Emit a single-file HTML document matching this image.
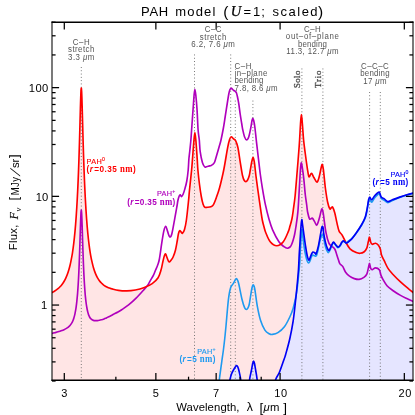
<!DOCTYPE html>
<html><head><meta charset="utf-8"><title>PAH model</title>
<style>html,body{margin:0;padding:0;background:#fff}body{width:415px;height:415px;overflow:hidden}svg{will-change:transform}</style>
</head><body>
<svg width="415" height="415" viewBox="0 0 415 415" style="display:block;font-family:'Liberation Sans',sans-serif">
<defs><clipPath id="c"><rect x="52" y="22.3" width="361" height="357.7"/></clipPath></defs>
<rect width="415" height="415" fill="#fff"/>
<g clip-path="url(#c)">
<path d="M48.00,294.23C48.33,294.10 49.33,293.72 50.00,293.43C50.67,293.14 51.33,292.84 52.00,292.51C52.67,292.18 53.33,291.83 54.00,291.44C54.67,291.04 55.33,290.63 56.00,290.16C56.67,289.70 57.33,289.20 58.00,288.64C58.67,288.07 59.33,287.47 60.00,286.77C60.67,286.07 61.33,285.32 62.00,284.44C62.67,283.56 63.33,282.62 64.00,281.48C64.67,280.35 65.33,279.13 66.00,277.63C66.67,276.14 67.33,274.53 68.00,272.50C68.67,270.48 69.33,268.30 70.00,265.48C70.67,262.66 71.57,257.86 72.00,255.58C72.43,253.31 72.40,253.16 72.60,251.83C72.80,250.50 73.00,249.10 73.20,247.61C73.40,246.11 73.60,244.54 73.80,242.85C74.00,241.16 74.20,239.38 74.40,237.46C74.60,235.54 74.80,233.53 75.00,231.34C75.20,229.15 75.40,226.85 75.60,224.35C75.80,221.84 76.00,219.20 76.20,216.32C76.40,213.43 76.60,210.38 76.80,207.04C77.00,203.69 77.26,198.88 77.40,196.25C77.54,193.61 77.57,192.96 77.65,191.22C77.73,189.49 77.82,187.71 77.90,185.85C77.98,184.00 78.07,182.08 78.15,180.09C78.23,178.11 78.32,176.06 78.40,173.92C78.48,171.79 78.57,169.59 78.65,167.30C78.73,165.01 78.82,162.65 78.90,160.19C78.98,157.74 79.07,155.20 79.15,152.57C79.23,149.94 79.32,147.22 79.40,144.42C79.48,141.62 79.57,138.72 79.65,135.76C79.73,132.81 79.82,129.75 79.90,126.67C79.98,123.60 80.07,120.43 80.15,117.34C80.23,114.24 80.32,111.06 80.40,108.11C80.48,105.17 80.57,102.18 80.65,99.64C80.73,97.10 80.82,94.66 80.90,92.86C80.98,91.06 81.08,89.64 81.15,88.86C81.22,88.08 81.26,88.24 81.30,88.17C81.34,88.11 81.34,87.88 81.40,88.48C81.46,89.09 81.57,90.20 81.65,91.80C81.73,93.41 81.82,95.69 81.90,98.11C81.98,100.54 82.07,103.44 82.15,106.33C82.23,109.22 82.32,112.38 82.40,115.46C82.48,118.54 82.57,121.73 82.65,124.81C82.73,127.90 82.82,130.98 82.90,133.97C82.98,136.95 83.07,139.89 83.15,142.72C83.23,145.55 83.32,148.31 83.40,150.97C83.48,153.63 83.57,156.20 83.65,158.69C83.73,161.18 83.82,163.57 83.90,165.89C83.98,168.21 84.07,170.44 84.15,172.60C84.23,174.76 84.32,176.84 84.40,178.85C84.48,180.87 84.57,182.80 84.65,184.68C84.73,186.56 84.82,188.37 84.90,190.12C84.98,191.87 85.07,193.56 85.15,195.20C85.23,196.84 85.26,197.45 85.40,199.95C85.54,202.44 85.80,207.00 86.00,210.17C86.20,213.34 86.40,216.23 86.60,218.96C86.80,221.70 87.00,224.20 87.20,226.58C87.40,228.95 87.60,231.13 87.80,233.21C88.00,235.28 88.20,237.19 88.40,239.01C88.60,240.82 88.80,242.50 89.00,244.10C89.20,245.70 89.40,247.19 89.60,248.60C89.80,250.01 90.00,251.33 90.20,252.58C90.40,253.83 90.60,255.00 90.80,256.11C91.00,257.22 90.97,257.35 91.40,259.26C91.83,261.16 92.73,265.19 93.40,267.54C94.07,269.90 94.73,271.70 95.40,273.38C96.07,275.05 96.73,276.37 97.40,277.59C98.07,278.81 98.73,279.79 99.40,280.70C100.07,281.60 100.73,282.34 101.40,283.03C102.07,283.71 102.73,284.28 103.40,284.80C104.07,285.33 104.73,285.77 105.40,286.17C106.07,286.58 106.73,286.92 107.40,287.24C108.07,287.56 108.73,287.83 109.40,288.08C110.07,288.33 110.97,288.61 111.40,288.75C111.83,288.88 110.83,288.64 112.00,288.92C113.17,289.19 115.92,290.07 118.40,290.40C120.88,290.73 124.08,290.97 126.90,290.90C129.72,290.83 132.50,290.52 135.30,290.00C138.10,289.48 140.88,288.87 143.70,287.80C146.52,286.73 149.80,285.28 152.20,283.60C154.60,281.92 156.63,279.95 158.10,277.70C159.57,275.45 160.22,272.72 161.00,270.10C161.78,267.48 162.25,264.35 162.80,262.00C163.35,259.65 163.83,257.33 164.30,256.00C164.77,254.67 165.15,253.75 165.60,254.00C166.05,254.25 166.55,256.37 167.00,257.50C167.45,258.63 167.88,260.07 168.30,260.80C168.72,261.53 169.05,261.98 169.50,261.90C169.95,261.82 170.40,261.12 171.00,260.30C171.60,259.48 172.35,258.72 173.10,257.00C173.85,255.28 174.80,252.75 175.50,250.00C176.20,247.25 176.80,243.25 177.30,240.50C177.80,237.75 178.10,235.13 178.50,233.50C178.90,231.87 179.28,230.98 179.70,230.70C180.12,230.42 180.53,231.37 181.00,231.80C181.47,232.23 181.92,233.67 182.50,233.30C183.08,232.93 183.85,231.82 184.50,229.60C185.15,227.38 185.72,224.92 186.40,220.00C187.08,215.08 188.08,205.10 188.60,200.10C189.12,195.10 189.00,195.02 189.50,190.00C190.00,184.98 191.10,175.18 191.60,170.00C192.10,164.82 192.13,163.57 192.50,158.90C192.87,154.23 193.40,146.40 193.80,142.00C194.20,137.60 194.53,132.50 194.90,132.50C195.27,132.50 195.62,137.60 196.00,142.00C196.38,146.40 196.88,154.23 197.20,158.90C197.52,163.57 197.52,165.73 197.90,170.00C198.28,174.27 198.93,180.08 199.50,184.50C200.07,188.92 200.70,193.20 201.30,196.50C201.90,199.80 202.50,202.50 203.10,204.30C203.70,206.10 204.17,206.80 204.90,207.30C205.63,207.80 206.50,207.40 207.50,207.30C208.50,207.20 209.93,207.10 210.90,206.70C211.87,206.30 212.40,206.40 213.30,204.90C214.20,203.40 215.27,200.52 216.30,197.70C217.33,194.88 218.37,192.12 219.50,188.00C220.63,183.88 222.18,177.17 223.10,173.00C224.02,168.83 224.23,167.28 225.00,163.00C225.77,158.72 226.93,151.22 227.70,147.30C228.47,143.38 229.02,141.25 229.60,139.50C230.18,137.75 230.55,136.92 231.20,136.80C231.85,136.68 232.75,138.13 233.50,138.80C234.25,139.47 234.97,139.35 235.70,140.80C236.43,142.25 237.17,144.08 237.90,147.50C238.63,150.92 239.50,157.55 240.10,161.30C240.70,165.05 241.10,167.63 241.50,170.00C241.90,172.37 242.08,173.83 242.50,175.50C242.92,177.17 243.45,178.98 244.00,180.00C244.55,181.02 245.20,181.60 245.80,181.60C246.40,181.60 247.02,181.02 247.60,180.00C248.18,178.98 248.85,177.17 249.30,175.50C249.75,173.83 249.88,172.33 250.30,170.00C250.72,167.67 251.33,163.63 251.80,161.50C252.27,159.37 252.68,157.12 253.10,157.20C253.52,157.28 253.93,159.87 254.30,162.00C254.67,164.13 255.03,167.75 255.30,170.00C255.57,172.25 255.43,171.88 255.90,175.50C256.37,179.12 257.25,185.63 258.10,191.70C258.95,197.77 260.30,207.18 261.00,211.90C261.70,216.62 261.82,217.57 262.30,220.00C262.78,222.43 263.30,224.33 263.90,226.50C264.50,228.67 264.85,230.47 265.90,233.00C266.95,235.53 268.40,239.58 270.20,241.70C272.00,243.82 274.52,245.70 276.70,245.70C278.88,245.70 281.37,244.05 283.30,241.70C285.23,239.35 287.18,234.22 288.30,231.60C289.42,228.98 289.40,228.10 290.00,226.00C290.60,223.90 291.35,221.67 291.90,219.00C292.45,216.33 292.77,213.83 293.30,210.00C293.83,206.17 294.52,201.67 295.10,196.00C295.68,190.33 296.12,184.33 296.80,176.00C297.48,167.67 298.58,154.67 299.20,146.00C299.82,137.33 300.13,129.25 300.50,124.00C300.87,118.75 301.08,114.50 301.40,114.50C301.72,114.50 302.03,119.75 302.40,124.00C302.77,128.25 303.13,135.17 303.60,140.00C304.07,144.83 304.57,148.20 305.20,153.00C305.83,157.80 306.78,164.85 307.40,168.80C308.02,172.75 308.42,175.67 308.90,176.70C309.38,177.73 309.83,175.55 310.30,175.00C310.77,174.45 311.10,172.98 311.70,173.40C312.30,173.82 313.05,176.05 313.90,177.50C314.75,178.95 316.05,181.77 316.80,182.10C317.55,182.43 317.92,180.75 318.40,179.50C318.88,178.25 319.23,176.60 319.70,174.60C320.17,172.60 320.77,169.18 321.20,167.50C321.63,165.82 321.95,164.25 322.30,164.50C322.65,164.75 322.98,166.92 323.30,169.00C323.62,171.08 323.83,173.67 324.20,177.00C324.57,180.33 324.93,184.83 325.50,189.00C326.07,193.17 326.88,198.70 327.60,202.00C328.32,205.30 329.18,207.83 329.80,208.80C330.42,209.77 330.82,208.07 331.30,207.80C331.78,207.53 332.12,206.33 332.70,207.20C333.28,208.07 334.08,210.35 334.80,213.00C335.52,215.65 336.28,220.08 337.00,223.10C337.72,226.12 338.27,229.13 339.10,231.10C339.93,233.07 340.92,233.10 342.00,234.90C343.08,236.70 344.27,239.58 345.60,241.90C346.93,244.22 348.23,247.02 350.00,248.80C351.77,250.58 354.52,251.85 356.20,252.60C357.88,253.35 358.82,253.40 360.10,253.30C361.38,253.20 362.78,252.87 363.90,252.00C365.02,251.13 366.07,249.80 366.80,248.10C367.53,246.40 367.85,243.62 368.30,241.80C368.75,239.98 369.10,237.12 369.50,237.20C369.90,237.28 370.25,241.12 370.70,242.30C371.15,243.48 371.40,244.13 372.20,244.30C373.00,244.47 374.47,243.15 375.50,243.30C376.53,243.45 377.60,244.23 378.40,245.20C379.20,246.17 379.78,247.48 380.30,249.10C380.82,250.72 380.85,252.97 381.50,254.90C382.15,256.83 383.12,258.45 384.20,260.70C385.28,262.95 386.57,266.15 388.00,268.40C389.43,270.65 390.72,271.95 392.80,274.20C394.88,276.45 397.92,279.50 400.50,281.90C403.08,284.30 405.72,286.45 408.30,288.60C410.88,290.75 414.72,293.77 416.00,294.80L416.00,420.00 L48.00,420.00 Z" fill="#ffe5e5"/>
<path d="M226.00,400.00C226.65,396.67 229.07,384.08 229.90,380.00C230.73,375.92 230.62,376.77 231.00,375.50C231.38,374.23 231.62,373.62 232.20,372.40C232.78,371.18 233.77,369.35 234.50,368.20C235.23,367.05 236.05,365.70 236.60,365.50C237.15,365.30 237.42,366.17 237.80,367.00C238.18,367.83 238.40,368.33 238.90,370.50C239.40,372.67 240.12,375.08 240.80,380.00C241.48,384.92 241.97,396.67 243.00,400.00C244.03,403.33 245.92,403.33 247.00,400.00C248.08,396.67 248.77,384.92 249.50,380.00C250.23,375.08 250.87,373.25 251.40,370.50C251.93,367.75 252.33,365.08 252.70,363.50C253.07,361.92 253.30,361.00 253.60,361.00C253.90,361.00 254.15,361.92 254.50,363.50C254.85,365.08 255.25,367.75 255.70,370.50C256.15,373.25 256.57,375.08 257.20,380.00C257.83,384.92 257.20,396.67 259.50,400.00C261.80,403.33 268.33,403.33 271.00,400.00C273.67,396.67 274.10,384.60 275.50,380.00C276.90,375.40 277.95,375.92 279.40,372.40C280.85,368.88 283.18,361.80 284.20,358.90C285.22,356.00 284.57,358.37 285.50,355.00C286.43,351.63 288.53,344.30 289.80,338.70C291.07,333.10 292.20,327.18 293.10,321.40C294.00,315.62 294.55,309.78 295.20,304.00C295.85,298.22 296.45,292.48 297.00,286.70C297.55,280.92 298.13,274.58 298.50,269.30C298.87,264.02 298.97,259.22 299.20,255.00C299.43,250.78 299.67,247.83 299.90,244.00C300.13,240.17 300.38,235.33 300.60,232.00C300.82,228.67 301.00,226.07 301.20,224.00C301.40,221.93 301.60,219.68 301.80,219.60C302.00,219.52 302.12,221.52 302.40,223.50C302.68,225.48 302.97,227.67 303.50,231.50C304.03,235.33 304.95,242.33 305.60,246.50C306.25,250.67 306.85,254.22 307.40,256.50C307.95,258.78 308.43,260.03 308.90,260.20C309.37,260.37 309.78,258.48 310.20,257.50C310.62,256.52 310.95,255.22 311.40,254.30C311.85,253.38 312.28,252.22 312.90,252.00C313.52,251.78 314.57,252.70 315.10,253.00C315.63,253.30 315.57,254.88 316.10,253.80C316.63,252.72 317.57,249.72 318.30,246.50C319.03,243.28 319.93,237.58 320.50,234.50C321.07,231.42 321.37,229.35 321.70,228.00C322.03,226.65 322.25,226.32 322.50,226.40C322.75,226.48 323.00,227.33 323.20,228.50C323.40,229.67 323.33,231.13 323.70,233.40C324.07,235.67 324.77,239.57 325.40,242.10C326.03,244.63 326.87,247.23 327.50,248.60C328.13,249.97 328.57,250.75 329.20,250.30C329.83,249.85 330.58,247.27 331.30,245.90C332.02,244.53 332.77,242.28 333.50,242.10C334.23,241.92 334.97,243.97 335.70,244.80C336.43,245.63 337.20,246.97 337.90,247.10C338.60,247.23 339.25,246.40 339.90,245.60C340.55,244.80 341.23,243.08 341.80,242.30C342.37,241.52 342.78,240.97 343.30,240.90C343.82,240.83 344.38,241.53 344.90,241.90C345.42,242.27 345.77,243.13 346.40,243.10C347.03,243.07 347.77,242.45 348.70,241.70C349.63,240.95 350.75,240.05 352.00,238.60C353.25,237.15 354.58,235.35 356.20,233.00C357.82,230.65 360.18,227.17 361.70,224.50C363.22,221.83 364.40,219.60 365.30,217.00C366.20,214.40 366.55,211.77 367.10,208.90C367.65,206.03 368.15,201.78 368.60,199.80C369.05,197.82 369.30,197.00 369.80,197.00C370.30,197.00 370.85,199.93 371.60,199.80C372.35,199.67 373.40,197.25 374.30,196.20C375.20,195.15 376.15,194.17 377.00,193.50C377.85,192.83 378.70,191.60 379.40,192.20C380.10,192.80 380.38,195.98 381.20,197.10C382.02,198.22 383.18,198.15 384.30,198.90C385.42,199.65 386.55,201.45 387.90,201.60C389.25,201.75 390.45,200.55 392.40,199.80C394.35,199.05 397.18,197.93 399.60,197.10C402.02,196.27 404.17,195.60 406.90,194.80C409.63,194.00 414.48,192.72 416.00,192.30L416.00,420.00 L226.00,420.00 Z" fill="#e5e5ff"/>
<line x1="81.30" y1="67.0" x2="81.30" y2="380" stroke="#6a6a6a" stroke-width="1" stroke-dasharray="0.9 2.4"/>
<line x1="194.50" y1="54.5" x2="194.50" y2="380" stroke="#6a6a6a" stroke-width="1" stroke-dasharray="0.9 2.4"/>
<line x1="230.70" y1="54.5" x2="230.70" y2="380" stroke="#6a6a6a" stroke-width="1" stroke-dasharray="0.9 2.4"/>
<line x1="235.30" y1="100.6" x2="235.30" y2="380" stroke="#6a6a6a" stroke-width="1" stroke-dasharray="0.9 2.4"/>
<line x1="252.90" y1="100.6" x2="252.90" y2="380" stroke="#6a6a6a" stroke-width="1" stroke-dasharray="0.9 2.4"/>
<line x1="301.90" y1="68.5" x2="301.90" y2="380" stroke="#6a6a6a" stroke-width="1" stroke-dasharray="0.9 2.4"/>
<line x1="322.90" y1="68.5" x2="322.90" y2="380" stroke="#6a6a6a" stroke-width="1" stroke-dasharray="0.9 2.4"/>
<line x1="369.60" y1="92.0" x2="369.60" y2="380" stroke="#6a6a6a" stroke-width="1" stroke-dasharray="0.9 2.4"/>
<line x1="380.30" y1="92.0" x2="380.30" y2="380" stroke="#6a6a6a" stroke-width="1" stroke-dasharray="0.9 2.4"/>
<path d="M48.00,333.61C48.33,333.60 49.33,333.54 50.00,333.50C50.67,333.46 51.33,333.47 52.00,333.37C52.67,333.27 53.33,333.06 54.00,332.90C54.67,332.73 55.33,332.57 56.00,332.39C56.67,332.21 57.33,332.03 58.00,331.83C58.67,331.64 59.33,331.43 60.00,331.21C60.67,330.99 61.33,330.76 62.00,330.49C62.67,330.23 63.33,329.94 64.00,329.63C64.67,329.33 65.33,329.02 66.00,328.65C66.67,328.27 67.33,327.90 68.00,327.38C68.67,326.86 69.33,326.32 70.00,325.53C70.67,324.73 71.57,323.30 72.00,322.61C72.43,321.92 72.40,321.84 72.60,321.40C72.80,320.96 73.00,320.49 73.20,319.97C73.40,319.45 73.60,318.89 73.80,318.26C74.00,317.62 74.20,316.94 74.40,316.16C74.60,315.38 74.80,314.55 75.00,313.60C75.20,312.65 75.40,311.63 75.60,310.45C75.80,309.28 76.00,308.02 76.20,306.55C76.40,305.08 76.60,303.50 76.80,301.64C77.00,299.78 77.26,296.95 77.40,295.39C77.54,293.84 77.57,293.39 77.65,292.30C77.73,291.21 77.82,290.07 77.90,288.85C77.98,287.64 78.07,286.37 78.15,285.02C78.23,283.67 78.32,282.26 78.40,280.76C78.48,279.25 78.57,277.68 78.65,276.01C78.73,274.33 78.82,272.58 78.90,270.72C78.98,268.87 79.07,266.92 79.15,264.87C79.23,262.81 79.32,260.66 79.40,258.40C79.48,256.15 79.57,253.79 79.65,251.34C79.73,248.90 79.82,246.34 79.90,243.74C79.98,241.15 80.07,238.44 80.15,235.78C80.23,233.12 80.32,230.36 80.40,227.79C80.48,225.22 80.57,222.61 80.65,220.38C80.73,218.15 80.82,215.99 80.90,214.41C80.98,212.82 81.08,211.57 81.15,210.88C81.22,210.19 81.26,210.32 81.30,210.27C81.34,210.21 81.34,210.00 81.40,210.53C81.46,211.07 81.57,212.04 81.65,213.46C81.73,214.87 81.82,216.88 81.90,219.00C81.98,221.12 82.07,223.67 82.15,226.18C82.23,228.70 82.32,231.44 82.40,234.09C82.48,236.73 82.57,239.45 82.65,242.05C82.73,244.66 82.82,247.24 82.90,249.70C82.98,252.16 83.07,254.55 83.15,256.82C83.23,259.10 83.32,261.27 83.40,263.34C83.48,265.41 83.57,267.37 83.65,269.24C83.73,271.11 83.82,272.88 83.90,274.55C83.98,276.23 84.07,277.81 84.15,279.32C84.23,280.82 84.32,282.23 84.40,283.57C84.48,284.92 84.57,286.18 84.65,287.38C84.73,288.58 84.82,289.71 84.90,290.79C84.98,291.86 85.07,292.87 85.15,293.83C85.23,294.79 85.26,295.19 85.40,296.55C85.54,297.91 85.80,300.39 86.00,302.00C86.20,303.60 86.40,304.96 86.60,306.21C86.80,307.46 87.00,308.52 87.20,309.50C87.40,310.48 87.60,311.31 87.80,312.09C88.00,312.86 88.20,313.52 88.40,314.14C88.60,314.75 88.80,315.30 89.00,315.78C89.20,316.25 89.40,316.63 89.60,316.99C89.80,317.35 90.00,317.66 90.20,317.94C90.40,318.22 90.60,318.46 90.80,318.68C91.00,318.91 90.97,318.99 91.40,319.27C91.83,319.55 92.73,320.13 93.40,320.37C94.07,320.60 94.73,320.64 95.40,320.68C96.07,320.71 96.73,320.63 97.40,320.56C98.07,320.49 98.73,320.38 99.40,320.26C100.07,320.13 100.73,319.96 101.40,319.79C102.07,319.62 102.73,319.47 103.40,319.23C104.07,318.98 104.73,318.64 105.40,318.33C106.07,318.03 106.73,317.70 107.40,317.38C108.07,317.06 108.73,316.74 109.40,316.41C110.07,316.09 110.73,315.79 111.40,315.44C112.07,315.09 112.97,314.57 113.40,314.32C113.83,314.08 113.23,314.35 114.00,313.96C114.77,313.58 116.72,312.71 118.00,312.00C119.28,311.29 119.88,310.92 121.70,309.70C123.52,308.48 126.50,306.62 128.90,304.70C131.30,302.78 133.68,300.62 136.10,298.20C138.52,295.78 141.47,292.37 143.40,290.20C145.33,288.03 146.50,286.88 147.70,285.20C148.90,283.52 149.63,281.78 150.60,280.10C151.57,278.42 152.67,276.78 153.50,275.10C154.33,273.42 154.90,271.68 155.60,270.00C156.30,268.32 157.07,266.83 157.70,265.00C158.33,263.17 158.73,262.60 159.40,259.00C160.07,255.40 160.97,248.05 161.70,243.40C162.43,238.75 163.13,233.97 163.80,231.10C164.47,228.23 165.08,226.20 165.70,226.20C166.32,226.20 166.85,229.33 167.50,231.10C168.15,232.87 168.88,236.32 169.60,236.80C170.32,237.28 170.95,237.00 171.80,234.00C172.65,231.00 173.87,223.27 174.70,218.80C175.53,214.33 176.27,210.25 176.80,207.20C177.33,204.15 177.50,202.37 177.90,200.50C178.30,198.63 178.82,196.93 179.20,196.00C179.58,195.07 179.82,194.80 180.20,194.90C180.58,195.00 181.03,196.67 181.50,196.60C181.97,196.53 182.45,195.75 183.00,194.50C183.55,193.25 184.17,191.35 184.80,189.10C185.43,186.85 186.23,184.18 186.80,181.00C187.37,177.82 187.85,173.68 188.20,170.00C188.55,166.32 188.62,162.23 188.90,158.90C189.18,155.57 189.57,153.15 189.90,150.00C190.23,146.85 190.62,143.33 190.90,140.00C191.18,136.67 191.23,135.18 191.60,130.00C191.97,124.82 192.68,114.73 193.10,108.90C193.52,103.07 193.80,98.28 194.10,95.00C194.40,91.72 194.62,89.20 194.90,89.20C195.18,89.20 195.45,91.72 195.80,95.00C196.15,98.28 196.62,103.07 197.00,108.90C197.38,114.73 197.72,124.82 198.10,130.00C198.48,135.18 198.95,136.38 199.30,140.00C199.65,143.62 199.68,147.95 200.20,151.70C200.72,155.45 201.67,159.98 202.40,162.50C203.13,165.02 203.92,166.10 204.60,166.80C205.28,167.50 205.80,166.82 206.50,166.70C207.20,166.58 208.02,166.32 208.80,166.10C209.58,165.88 210.52,165.68 211.20,165.40C211.88,165.12 212.43,164.78 212.90,164.40C213.37,164.02 213.65,163.67 214.00,163.10C214.35,162.53 214.17,163.63 215.00,161.00C215.83,158.37 218.00,150.80 219.00,147.30C220.00,143.80 220.27,143.22 221.00,140.00C221.73,136.78 222.68,132.00 223.40,128.00C224.12,124.00 224.42,121.58 225.30,116.00C226.18,110.42 227.92,98.92 228.70,94.50C229.48,90.08 229.58,90.55 230.00,89.50C230.42,88.45 230.78,88.23 231.20,88.20C231.62,88.17 232.07,88.92 232.50,89.30C232.93,89.68 233.35,90.17 233.80,90.50C234.25,90.83 234.77,90.92 235.20,91.30C235.63,91.68 236.02,91.85 236.40,92.80C236.78,93.75 237.10,95.15 237.50,97.00C237.90,98.85 238.37,101.15 238.80,103.90C239.23,106.65 239.62,110.23 240.10,113.50C240.58,116.77 241.25,120.75 241.70,123.50C242.15,126.25 242.33,127.80 242.80,130.00C243.27,132.20 243.87,135.05 244.50,136.70C245.13,138.35 245.88,139.90 246.60,139.90C247.32,139.90 248.07,138.92 248.80,136.70C249.53,134.48 250.47,129.30 251.00,126.60C251.53,123.90 251.70,121.90 252.00,120.50C252.30,119.10 252.52,118.20 252.80,118.20C253.08,118.20 253.35,118.95 253.70,120.50C254.05,122.05 254.40,123.60 254.90,127.50C255.40,131.40 256.03,138.03 256.70,143.90C257.37,149.77 258.28,157.52 258.90,162.70C259.52,167.88 259.80,170.65 260.40,175.00C261.00,179.35 261.67,183.85 262.50,188.80C263.33,193.75 264.32,199.63 265.40,204.70C266.48,209.77 267.80,215.02 269.00,219.20C270.20,223.38 270.95,226.05 272.60,229.80C274.25,233.55 277.00,238.88 278.90,241.70C280.80,244.52 282.60,245.62 284.00,246.70C285.40,247.78 286.30,248.15 287.30,248.20C288.30,248.25 289.28,247.62 290.00,247.00C290.72,246.38 291.07,245.67 291.60,244.50C292.13,243.33 292.70,241.67 293.20,240.00C293.70,238.33 294.17,236.58 294.60,234.50C295.03,232.42 295.25,231.32 295.80,227.50C296.35,223.68 297.32,218.02 297.90,211.60C298.48,205.18 298.88,195.93 299.30,189.00C299.72,182.07 300.08,174.37 300.40,170.00C300.72,165.63 300.90,163.30 301.20,162.80C301.50,162.30 301.77,164.32 302.20,167.00C302.63,169.68 303.30,174.40 303.80,178.90C304.30,183.40 304.72,189.65 305.20,194.00C305.68,198.35 306.30,202.00 306.70,205.00C307.10,208.00 307.13,209.70 307.60,212.00C308.07,214.30 308.93,217.68 309.50,218.80C310.07,219.92 310.52,218.82 311.00,218.70C311.48,218.58 311.80,217.60 312.40,218.10C313.00,218.60 313.88,220.50 314.60,221.70C315.32,222.90 316.10,225.25 316.70,225.30C317.30,225.35 317.72,223.33 318.20,222.00C318.68,220.67 319.12,219.13 319.60,217.30C320.08,215.47 320.68,212.40 321.10,211.00C321.52,209.60 321.77,208.65 322.10,208.90C322.43,209.15 322.78,210.85 323.10,212.50C323.42,214.15 323.50,215.35 324.00,218.80C324.50,222.25 325.27,229.10 326.10,233.20C326.93,237.30 328.03,241.22 329.00,243.40C329.97,245.58 330.90,245.28 331.90,246.30C332.90,247.32 334.15,247.97 335.00,249.50C335.85,251.03 336.42,253.75 337.00,255.50C337.58,257.25 338.03,258.65 338.50,260.00C338.97,261.35 339.10,262.53 339.80,263.60C340.50,264.67 341.73,264.97 342.70,266.40C343.67,267.83 344.47,270.58 345.60,272.20C346.73,273.82 348.05,275.03 349.50,276.10C350.95,277.17 352.70,278.05 354.30,278.60C355.90,279.15 357.50,279.60 359.10,279.40C360.70,279.20 362.62,278.27 363.90,277.40C365.18,276.53 366.07,275.70 366.80,274.20C367.53,272.70 367.85,270.20 368.30,268.40C368.75,266.60 369.10,263.40 369.50,263.40C369.90,263.40 370.25,267.35 370.70,268.40C371.15,269.45 371.40,269.80 372.20,269.70C373.00,269.60 374.32,267.80 375.50,267.80C376.68,267.80 378.40,268.48 379.30,269.70C380.20,270.92 380.25,273.40 380.90,275.10C381.55,276.80 382.18,278.13 383.20,279.90C384.22,281.67 385.40,283.93 387.00,285.70C388.60,287.47 390.55,288.88 392.80,290.50C395.05,292.12 397.92,293.95 400.50,295.40C403.08,296.85 405.72,297.97 408.30,299.20C410.88,300.43 414.72,302.20 416.00,302.80" fill="none" stroke="#b000bc" stroke-width="1.65" stroke-linejoin="round"/>
<path d="M48.00,294.23C48.33,294.10 49.33,293.72 50.00,293.43C50.67,293.14 51.33,292.84 52.00,292.51C52.67,292.18 53.33,291.83 54.00,291.44C54.67,291.04 55.33,290.63 56.00,290.16C56.67,289.70 57.33,289.20 58.00,288.64C58.67,288.07 59.33,287.47 60.00,286.77C60.67,286.07 61.33,285.32 62.00,284.44C62.67,283.56 63.33,282.62 64.00,281.48C64.67,280.35 65.33,279.13 66.00,277.63C66.67,276.14 67.33,274.53 68.00,272.50C68.67,270.48 69.33,268.30 70.00,265.48C70.67,262.66 71.57,257.86 72.00,255.58C72.43,253.31 72.40,253.16 72.60,251.83C72.80,250.50 73.00,249.10 73.20,247.61C73.40,246.11 73.60,244.54 73.80,242.85C74.00,241.16 74.20,239.38 74.40,237.46C74.60,235.54 74.80,233.53 75.00,231.34C75.20,229.15 75.40,226.85 75.60,224.35C75.80,221.84 76.00,219.20 76.20,216.32C76.40,213.43 76.60,210.38 76.80,207.04C77.00,203.69 77.26,198.88 77.40,196.25C77.54,193.61 77.57,192.96 77.65,191.22C77.73,189.49 77.82,187.71 77.90,185.85C77.98,184.00 78.07,182.08 78.15,180.09C78.23,178.11 78.32,176.06 78.40,173.92C78.48,171.79 78.57,169.59 78.65,167.30C78.73,165.01 78.82,162.65 78.90,160.19C78.98,157.74 79.07,155.20 79.15,152.57C79.23,149.94 79.32,147.22 79.40,144.42C79.48,141.62 79.57,138.72 79.65,135.76C79.73,132.81 79.82,129.75 79.90,126.67C79.98,123.60 80.07,120.43 80.15,117.34C80.23,114.24 80.32,111.06 80.40,108.11C80.48,105.17 80.57,102.18 80.65,99.64C80.73,97.10 80.82,94.66 80.90,92.86C80.98,91.06 81.08,89.64 81.15,88.86C81.22,88.08 81.26,88.24 81.30,88.17C81.34,88.11 81.34,87.88 81.40,88.48C81.46,89.09 81.57,90.20 81.65,91.80C81.73,93.41 81.82,95.69 81.90,98.11C81.98,100.54 82.07,103.44 82.15,106.33C82.23,109.22 82.32,112.38 82.40,115.46C82.48,118.54 82.57,121.73 82.65,124.81C82.73,127.90 82.82,130.98 82.90,133.97C82.98,136.95 83.07,139.89 83.15,142.72C83.23,145.55 83.32,148.31 83.40,150.97C83.48,153.63 83.57,156.20 83.65,158.69C83.73,161.18 83.82,163.57 83.90,165.89C83.98,168.21 84.07,170.44 84.15,172.60C84.23,174.76 84.32,176.84 84.40,178.85C84.48,180.87 84.57,182.80 84.65,184.68C84.73,186.56 84.82,188.37 84.90,190.12C84.98,191.87 85.07,193.56 85.15,195.20C85.23,196.84 85.26,197.45 85.40,199.95C85.54,202.44 85.80,207.00 86.00,210.17C86.20,213.34 86.40,216.23 86.60,218.96C86.80,221.70 87.00,224.20 87.20,226.58C87.40,228.95 87.60,231.13 87.80,233.21C88.00,235.28 88.20,237.19 88.40,239.01C88.60,240.82 88.80,242.50 89.00,244.10C89.20,245.70 89.40,247.19 89.60,248.60C89.80,250.01 90.00,251.33 90.20,252.58C90.40,253.83 90.60,255.00 90.80,256.11C91.00,257.22 90.97,257.35 91.40,259.26C91.83,261.16 92.73,265.19 93.40,267.54C94.07,269.90 94.73,271.70 95.40,273.38C96.07,275.05 96.73,276.37 97.40,277.59C98.07,278.81 98.73,279.79 99.40,280.70C100.07,281.60 100.73,282.34 101.40,283.03C102.07,283.71 102.73,284.28 103.40,284.80C104.07,285.33 104.73,285.77 105.40,286.17C106.07,286.58 106.73,286.92 107.40,287.24C108.07,287.56 108.73,287.83 109.40,288.08C110.07,288.33 110.97,288.61 111.40,288.75C111.83,288.88 110.83,288.64 112.00,288.92C113.17,289.19 115.92,290.07 118.40,290.40C120.88,290.73 124.08,290.97 126.90,290.90C129.72,290.83 132.50,290.52 135.30,290.00C138.10,289.48 140.88,288.87 143.70,287.80C146.52,286.73 149.80,285.28 152.20,283.60C154.60,281.92 156.63,279.95 158.10,277.70C159.57,275.45 160.22,272.72 161.00,270.10C161.78,267.48 162.25,264.35 162.80,262.00C163.35,259.65 163.83,257.33 164.30,256.00C164.77,254.67 165.15,253.75 165.60,254.00C166.05,254.25 166.55,256.37 167.00,257.50C167.45,258.63 167.88,260.07 168.30,260.80C168.72,261.53 169.05,261.98 169.50,261.90C169.95,261.82 170.40,261.12 171.00,260.30C171.60,259.48 172.35,258.72 173.10,257.00C173.85,255.28 174.80,252.75 175.50,250.00C176.20,247.25 176.80,243.25 177.30,240.50C177.80,237.75 178.10,235.13 178.50,233.50C178.90,231.87 179.28,230.98 179.70,230.70C180.12,230.42 180.53,231.37 181.00,231.80C181.47,232.23 181.92,233.67 182.50,233.30C183.08,232.93 183.85,231.82 184.50,229.60C185.15,227.38 185.72,224.92 186.40,220.00C187.08,215.08 188.08,205.10 188.60,200.10C189.12,195.10 189.00,195.02 189.50,190.00C190.00,184.98 191.10,175.18 191.60,170.00C192.10,164.82 192.13,163.57 192.50,158.90C192.87,154.23 193.40,146.40 193.80,142.00C194.20,137.60 194.53,132.50 194.90,132.50C195.27,132.50 195.62,137.60 196.00,142.00C196.38,146.40 196.88,154.23 197.20,158.90C197.52,163.57 197.52,165.73 197.90,170.00C198.28,174.27 198.93,180.08 199.50,184.50C200.07,188.92 200.70,193.20 201.30,196.50C201.90,199.80 202.50,202.50 203.10,204.30C203.70,206.10 204.17,206.80 204.90,207.30C205.63,207.80 206.50,207.40 207.50,207.30C208.50,207.20 209.93,207.10 210.90,206.70C211.87,206.30 212.40,206.40 213.30,204.90C214.20,203.40 215.27,200.52 216.30,197.70C217.33,194.88 218.37,192.12 219.50,188.00C220.63,183.88 222.18,177.17 223.10,173.00C224.02,168.83 224.23,167.28 225.00,163.00C225.77,158.72 226.93,151.22 227.70,147.30C228.47,143.38 229.02,141.25 229.60,139.50C230.18,137.75 230.55,136.92 231.20,136.80C231.85,136.68 232.75,138.13 233.50,138.80C234.25,139.47 234.97,139.35 235.70,140.80C236.43,142.25 237.17,144.08 237.90,147.50C238.63,150.92 239.50,157.55 240.10,161.30C240.70,165.05 241.10,167.63 241.50,170.00C241.90,172.37 242.08,173.83 242.50,175.50C242.92,177.17 243.45,178.98 244.00,180.00C244.55,181.02 245.20,181.60 245.80,181.60C246.40,181.60 247.02,181.02 247.60,180.00C248.18,178.98 248.85,177.17 249.30,175.50C249.75,173.83 249.88,172.33 250.30,170.00C250.72,167.67 251.33,163.63 251.80,161.50C252.27,159.37 252.68,157.12 253.10,157.20C253.52,157.28 253.93,159.87 254.30,162.00C254.67,164.13 255.03,167.75 255.30,170.00C255.57,172.25 255.43,171.88 255.90,175.50C256.37,179.12 257.25,185.63 258.10,191.70C258.95,197.77 260.30,207.18 261.00,211.90C261.70,216.62 261.82,217.57 262.30,220.00C262.78,222.43 263.30,224.33 263.90,226.50C264.50,228.67 264.85,230.47 265.90,233.00C266.95,235.53 268.40,239.58 270.20,241.70C272.00,243.82 274.52,245.70 276.70,245.70C278.88,245.70 281.37,244.05 283.30,241.70C285.23,239.35 287.18,234.22 288.30,231.60C289.42,228.98 289.40,228.10 290.00,226.00C290.60,223.90 291.35,221.67 291.90,219.00C292.45,216.33 292.77,213.83 293.30,210.00C293.83,206.17 294.52,201.67 295.10,196.00C295.68,190.33 296.12,184.33 296.80,176.00C297.48,167.67 298.58,154.67 299.20,146.00C299.82,137.33 300.13,129.25 300.50,124.00C300.87,118.75 301.08,114.50 301.40,114.50C301.72,114.50 302.03,119.75 302.40,124.00C302.77,128.25 303.13,135.17 303.60,140.00C304.07,144.83 304.57,148.20 305.20,153.00C305.83,157.80 306.78,164.85 307.40,168.80C308.02,172.75 308.42,175.67 308.90,176.70C309.38,177.73 309.83,175.55 310.30,175.00C310.77,174.45 311.10,172.98 311.70,173.40C312.30,173.82 313.05,176.05 313.90,177.50C314.75,178.95 316.05,181.77 316.80,182.10C317.55,182.43 317.92,180.75 318.40,179.50C318.88,178.25 319.23,176.60 319.70,174.60C320.17,172.60 320.77,169.18 321.20,167.50C321.63,165.82 321.95,164.25 322.30,164.50C322.65,164.75 322.98,166.92 323.30,169.00C323.62,171.08 323.83,173.67 324.20,177.00C324.57,180.33 324.93,184.83 325.50,189.00C326.07,193.17 326.88,198.70 327.60,202.00C328.32,205.30 329.18,207.83 329.80,208.80C330.42,209.77 330.82,208.07 331.30,207.80C331.78,207.53 332.12,206.33 332.70,207.20C333.28,208.07 334.08,210.35 334.80,213.00C335.52,215.65 336.28,220.08 337.00,223.10C337.72,226.12 338.27,229.13 339.10,231.10C339.93,233.07 340.92,233.10 342.00,234.90C343.08,236.70 344.27,239.58 345.60,241.90C346.93,244.22 348.23,247.02 350.00,248.80C351.77,250.58 354.52,251.85 356.20,252.60C357.88,253.35 358.82,253.40 360.10,253.30C361.38,253.20 362.78,252.87 363.90,252.00C365.02,251.13 366.07,249.80 366.80,248.10C367.53,246.40 367.85,243.62 368.30,241.80C368.75,239.98 369.10,237.12 369.50,237.20C369.90,237.28 370.25,241.12 370.70,242.30C371.15,243.48 371.40,244.13 372.20,244.30C373.00,244.47 374.47,243.15 375.50,243.30C376.53,243.45 377.60,244.23 378.40,245.20C379.20,246.17 379.78,247.48 380.30,249.10C380.82,250.72 380.85,252.97 381.50,254.90C382.15,256.83 383.12,258.45 384.20,260.70C385.28,262.95 386.57,266.15 388.00,268.40C389.43,270.65 390.72,271.95 392.80,274.20C394.88,276.45 397.92,279.50 400.50,281.90C403.08,284.30 405.72,286.45 408.30,288.60C410.88,290.75 414.72,293.77 416.00,294.80" fill="none" stroke="#ff0000" stroke-width="1.65" stroke-linejoin="round"/>
<path d="M217.00,400.00C217.38,396.67 218.53,386.20 219.30,380.00C220.07,373.80 220.92,367.80 221.60,362.80C222.28,357.80 222.87,354.13 223.40,350.00C223.93,345.87 224.37,342.00 224.80,338.00C225.23,334.00 225.40,332.38 226.00,326.00C226.60,319.62 227.63,306.07 228.40,299.70C229.17,293.33 229.77,290.52 230.60,287.80C231.43,285.08 232.67,284.65 233.40,283.40C234.13,282.15 234.52,281.10 235.00,280.30C235.48,279.50 235.87,278.60 236.30,278.60C236.73,278.60 237.17,279.32 237.60,280.30C238.03,281.28 238.15,281.27 238.90,284.50C239.65,287.73 241.13,295.80 242.10,299.70C243.07,303.60 243.98,306.27 244.70,307.90C245.42,309.53 245.85,309.52 246.40,309.50C246.95,309.48 247.52,308.72 248.00,307.80C248.48,306.88 248.73,306.80 249.30,304.00C249.87,301.20 250.88,293.95 251.40,291.00C251.92,288.05 252.10,287.35 252.40,286.30C252.70,285.25 252.92,284.70 253.20,284.70C253.48,284.70 253.78,285.25 254.10,286.30C254.42,287.35 254.57,287.68 255.10,291.00C255.63,294.32 256.40,301.32 257.30,306.20C258.20,311.08 259.23,316.32 260.50,320.30C261.77,324.28 263.45,327.87 264.90,330.10C266.35,332.33 267.93,332.98 269.20,333.70C270.47,334.42 271.05,334.57 272.50,334.40C273.95,334.23 275.92,333.97 277.90,332.70C279.88,331.43 282.42,329.42 284.40,326.80C286.38,324.18 288.35,320.07 289.80,317.00C291.25,313.93 292.12,311.65 293.10,308.40C294.08,305.15 294.98,301.12 295.70,297.50C296.42,293.88 296.87,290.95 297.40,286.70C297.93,282.45 298.50,276.12 298.90,272.00C299.30,267.88 299.55,265.67 299.80,262.00C300.05,258.33 300.20,253.67 300.40,250.00C300.60,246.33 300.82,242.92 301.00,240.00C301.18,237.08 301.34,234.30 301.50,232.50C301.66,230.70 301.82,229.48 301.95,229.20C302.08,228.92 302.16,229.67 302.30,230.80C302.44,231.93 302.58,233.97 302.80,236.00C303.02,238.03 303.30,240.67 303.60,243.00C303.90,245.33 304.23,247.83 304.60,250.00C304.97,252.17 305.37,254.17 305.80,256.00C306.23,257.83 306.75,259.83 307.20,261.00C307.65,262.17 308.07,262.92 308.50,263.00C308.93,263.08 309.35,262.42 309.80,261.50C310.25,260.58 310.73,258.58 311.20,257.50C311.67,256.42 312.05,255.28 312.60,255.00C313.15,254.72 313.87,255.70 314.50,255.80C315.13,255.90 315.82,256.57 316.40,255.60C316.98,254.63 317.42,252.43 318.00,250.00C318.58,247.57 319.32,243.33 319.90,241.00C320.48,238.67 321.05,237.08 321.50,236.00C321.95,234.92 322.23,234.17 322.60,234.50C322.97,234.83 323.30,236.28 323.70,238.00C324.10,239.72 324.48,242.73 325.00,244.80C325.52,246.87 326.22,249.10 326.80,250.40C327.38,251.70 327.90,252.78 328.50,252.60C329.10,252.42 329.82,250.57 330.40,249.30C330.98,248.03 331.48,246.05 332.00,245.00C332.52,243.95 332.88,242.95 333.50,243.00C334.12,243.05 334.97,244.53 335.70,245.30C336.43,246.07 337.20,247.47 337.90,247.60C338.60,247.73 339.25,246.90 339.90,246.10C340.55,245.30 341.23,243.60 341.80,242.80C342.37,242.00 342.78,241.42 343.30,241.30C343.82,241.18 344.38,241.87 344.90,242.10C345.42,242.33 345.77,242.90 346.40,242.70C347.03,242.50 347.77,241.65 348.70,240.90C349.63,240.15 350.75,239.48 352.00,238.20C353.25,236.92 354.58,235.40 356.20,233.20C357.82,231.00 360.18,227.57 361.70,225.00C363.22,222.43 364.40,220.30 365.30,217.80C366.20,215.30 366.55,212.67 367.10,210.00C367.65,207.33 368.15,203.63 368.60,201.80C369.05,199.97 369.30,198.92 369.80,199.00C370.30,199.08 370.85,202.43 371.60,202.30C372.35,202.17 373.40,199.37 374.30,198.20C375.20,197.03 376.15,196.03 377.00,195.30C377.85,194.57 378.67,193.25 379.40,193.80C380.13,194.35 380.58,197.50 381.40,198.60C382.22,199.70 383.22,199.73 384.30,200.40C385.38,201.07 386.55,202.58 387.90,202.60C389.25,202.62 390.45,201.35 392.40,200.50C394.35,199.65 397.18,198.42 399.60,197.50C402.02,196.58 404.17,195.83 406.90,195.00C409.63,194.17 414.48,192.92 416.00,192.50" fill="none" stroke="#1e9af0" stroke-width="1.6" stroke-linejoin="round"/>
<path d="M226.00,400.00C226.65,396.67 229.07,384.08 229.90,380.00C230.73,375.92 230.62,376.77 231.00,375.50C231.38,374.23 231.62,373.62 232.20,372.40C232.78,371.18 233.77,369.35 234.50,368.20C235.23,367.05 236.05,365.70 236.60,365.50C237.15,365.30 237.42,366.17 237.80,367.00C238.18,367.83 238.40,368.33 238.90,370.50C239.40,372.67 240.12,375.08 240.80,380.00C241.48,384.92 241.97,396.67 243.00,400.00C244.03,403.33 245.92,403.33 247.00,400.00C248.08,396.67 248.77,384.92 249.50,380.00C250.23,375.08 250.87,373.25 251.40,370.50C251.93,367.75 252.33,365.08 252.70,363.50C253.07,361.92 253.30,361.00 253.60,361.00C253.90,361.00 254.15,361.92 254.50,363.50C254.85,365.08 255.25,367.75 255.70,370.50C256.15,373.25 256.57,375.08 257.20,380.00C257.83,384.92 257.20,396.67 259.50,400.00C261.80,403.33 268.33,403.33 271.00,400.00C273.67,396.67 274.10,384.60 275.50,380.00C276.90,375.40 277.95,375.92 279.40,372.40C280.85,368.88 283.18,361.80 284.20,358.90C285.22,356.00 284.57,358.37 285.50,355.00C286.43,351.63 288.53,344.30 289.80,338.70C291.07,333.10 292.20,327.18 293.10,321.40C294.00,315.62 294.55,309.78 295.20,304.00C295.85,298.22 296.45,292.48 297.00,286.70C297.55,280.92 298.13,274.58 298.50,269.30C298.87,264.02 298.97,259.22 299.20,255.00C299.43,250.78 299.67,247.83 299.90,244.00C300.13,240.17 300.38,235.33 300.60,232.00C300.82,228.67 301.00,226.07 301.20,224.00C301.40,221.93 301.60,219.68 301.80,219.60C302.00,219.52 302.12,221.52 302.40,223.50C302.68,225.48 302.97,227.67 303.50,231.50C304.03,235.33 304.95,242.33 305.60,246.50C306.25,250.67 306.85,254.22 307.40,256.50C307.95,258.78 308.43,260.03 308.90,260.20C309.37,260.37 309.78,258.48 310.20,257.50C310.62,256.52 310.95,255.22 311.40,254.30C311.85,253.38 312.28,252.22 312.90,252.00C313.52,251.78 314.57,252.70 315.10,253.00C315.63,253.30 315.57,254.88 316.10,253.80C316.63,252.72 317.57,249.72 318.30,246.50C319.03,243.28 319.93,237.58 320.50,234.50C321.07,231.42 321.37,229.35 321.70,228.00C322.03,226.65 322.25,226.32 322.50,226.40C322.75,226.48 323.00,227.33 323.20,228.50C323.40,229.67 323.33,231.13 323.70,233.40C324.07,235.67 324.77,239.57 325.40,242.10C326.03,244.63 326.87,247.23 327.50,248.60C328.13,249.97 328.57,250.75 329.20,250.30C329.83,249.85 330.58,247.27 331.30,245.90C332.02,244.53 332.77,242.28 333.50,242.10C334.23,241.92 334.97,243.97 335.70,244.80C336.43,245.63 337.20,246.97 337.90,247.10C338.60,247.23 339.25,246.40 339.90,245.60C340.55,244.80 341.23,243.08 341.80,242.30C342.37,241.52 342.78,240.97 343.30,240.90C343.82,240.83 344.38,241.53 344.90,241.90C345.42,242.27 345.77,243.13 346.40,243.10C347.03,243.07 347.77,242.45 348.70,241.70C349.63,240.95 350.75,240.05 352.00,238.60C353.25,237.15 354.58,235.35 356.20,233.00C357.82,230.65 360.18,227.17 361.70,224.50C363.22,221.83 364.40,219.60 365.30,217.00C366.20,214.40 366.55,211.77 367.10,208.90C367.65,206.03 368.15,201.78 368.60,199.80C369.05,197.82 369.30,197.00 369.80,197.00C370.30,197.00 370.85,199.93 371.60,199.80C372.35,199.67 373.40,197.25 374.30,196.20C375.20,195.15 376.15,194.17 377.00,193.50C377.85,192.83 378.70,191.60 379.40,192.20C380.10,192.80 380.38,195.98 381.20,197.10C382.02,198.22 383.18,198.15 384.30,198.90C385.42,199.65 386.55,201.45 387.90,201.60C389.25,201.75 390.45,200.55 392.40,199.80C394.35,199.05 397.18,197.93 399.60,197.10C402.02,196.27 404.17,195.60 406.90,194.80C409.63,194.00 414.48,192.72 416.00,192.30" fill="none" stroke="#0000f6" stroke-width="1.65" stroke-linejoin="round"/>
</g>
<g stroke="#000" stroke-width="1.25" fill="none">
<line x1="52.0" y1="381.03" x2="55.6" y2="381.03"/>
<line x1="413.0" y1="381.03" x2="409.4" y2="381.03"/>
<line x1="52.0" y1="361.89" x2="55.6" y2="361.89"/>
<line x1="413.0" y1="361.89" x2="409.4" y2="361.89"/>
<line x1="52.0" y1="348.31" x2="55.6" y2="348.31"/>
<line x1="413.0" y1="348.31" x2="409.4" y2="348.31"/>
<line x1="52.0" y1="337.77" x2="55.6" y2="337.77"/>
<line x1="413.0" y1="337.77" x2="409.4" y2="337.77"/>
<line x1="52.0" y1="329.16" x2="55.6" y2="329.16"/>
<line x1="413.0" y1="329.16" x2="409.4" y2="329.16"/>
<line x1="52.0" y1="321.89" x2="55.6" y2="321.89"/>
<line x1="413.0" y1="321.89" x2="409.4" y2="321.89"/>
<line x1="52.0" y1="315.58" x2="55.6" y2="315.58"/>
<line x1="413.0" y1="315.58" x2="409.4" y2="315.58"/>
<line x1="52.0" y1="310.02" x2="55.6" y2="310.02"/>
<line x1="413.0" y1="310.02" x2="409.4" y2="310.02"/>
<line x1="52.0" y1="305.05" x2="59.1" y2="305.05"/>
<line x1="413.0" y1="305.05" x2="405.9" y2="305.05"/>
<line x1="52.0" y1="272.33" x2="55.6" y2="272.33"/>
<line x1="413.0" y1="272.33" x2="409.4" y2="272.33"/>
<line x1="52.0" y1="253.19" x2="55.6" y2="253.19"/>
<line x1="413.0" y1="253.19" x2="409.4" y2="253.19"/>
<line x1="52.0" y1="239.61" x2="55.6" y2="239.61"/>
<line x1="413.0" y1="239.61" x2="409.4" y2="239.61"/>
<line x1="52.0" y1="229.07" x2="55.6" y2="229.07"/>
<line x1="413.0" y1="229.07" x2="409.4" y2="229.07"/>
<line x1="52.0" y1="220.46" x2="55.6" y2="220.46"/>
<line x1="413.0" y1="220.46" x2="409.4" y2="220.46"/>
<line x1="52.0" y1="213.19" x2="55.6" y2="213.19"/>
<line x1="413.0" y1="213.19" x2="409.4" y2="213.19"/>
<line x1="52.0" y1="206.88" x2="55.6" y2="206.88"/>
<line x1="413.0" y1="206.88" x2="409.4" y2="206.88"/>
<line x1="52.0" y1="201.32" x2="55.6" y2="201.32"/>
<line x1="413.0" y1="201.32" x2="409.4" y2="201.32"/>
<line x1="52.0" y1="196.35" x2="59.1" y2="196.35"/>
<line x1="413.0" y1="196.35" x2="405.9" y2="196.35"/>
<line x1="52.0" y1="163.63" x2="55.6" y2="163.63"/>
<line x1="413.0" y1="163.63" x2="409.4" y2="163.63"/>
<line x1="52.0" y1="144.49" x2="55.6" y2="144.49"/>
<line x1="413.0" y1="144.49" x2="409.4" y2="144.49"/>
<line x1="52.0" y1="130.91" x2="55.6" y2="130.91"/>
<line x1="413.0" y1="130.91" x2="409.4" y2="130.91"/>
<line x1="52.0" y1="120.37" x2="55.6" y2="120.37"/>
<line x1="413.0" y1="120.37" x2="409.4" y2="120.37"/>
<line x1="52.0" y1="111.76" x2="55.6" y2="111.76"/>
<line x1="413.0" y1="111.76" x2="409.4" y2="111.76"/>
<line x1="52.0" y1="104.49" x2="55.6" y2="104.49"/>
<line x1="413.0" y1="104.49" x2="409.4" y2="104.49"/>
<line x1="52.0" y1="98.18" x2="55.6" y2="98.18"/>
<line x1="413.0" y1="98.18" x2="409.4" y2="98.18"/>
<line x1="52.0" y1="92.62" x2="55.6" y2="92.62"/>
<line x1="413.0" y1="92.62" x2="409.4" y2="92.62"/>
<line x1="52.0" y1="87.65" x2="59.1" y2="87.65"/>
<line x1="413.0" y1="87.65" x2="405.9" y2="87.65"/>
<line x1="52.0" y1="54.93" x2="55.6" y2="54.93"/>
<line x1="413.0" y1="54.93" x2="409.4" y2="54.93"/>
<line x1="52.0" y1="35.79" x2="55.6" y2="35.79"/>
<line x1="413.0" y1="35.79" x2="409.4" y2="35.79"/>
<line x1="52.0" y1="22.21" x2="55.6" y2="22.21"/>
<line x1="413.0" y1="22.21" x2="409.4" y2="22.21"/>
<line x1="64.30" y1="380.3" x2="64.30" y2="373.1"/>
<line x1="64.30" y1="22.3" x2="64.30" y2="29.5"/>
<line x1="155.86" y1="380.3" x2="155.86" y2="373.1"/>
<line x1="155.86" y1="22.3" x2="155.86" y2="29.5"/>
<line x1="216.16" y1="380.3" x2="216.16" y2="373.1"/>
<line x1="216.16" y1="22.3" x2="216.16" y2="29.5"/>
<line x1="280.09" y1="380.3" x2="280.09" y2="373.1"/>
<line x1="280.09" y1="22.3" x2="280.09" y2="29.5"/>
<line x1="404.33" y1="380.3" x2="404.33" y2="373.1"/>
<line x1="404.33" y1="22.3" x2="404.33" y2="29.5"/>
<line x1="115.86" y1="380.3" x2="115.86" y2="376.7"/>
<line x1="188.54" y1="380.3" x2="188.54" y2="376.7"/>
<line x1="240.10" y1="380.3" x2="240.10" y2="376.7"/>
<line x1="261.21" y1="380.3" x2="261.21" y2="376.7"/>
</g>
<line x1="52" y1="21.6" x2="52" y2="381" stroke="#000" stroke-width="1.05"/>
<line x1="413" y1="21.6" x2="413" y2="381" stroke="#000" stroke-width="1.05"/>
<line x1="51.5" y1="22.3" x2="413.5" y2="22.3" stroke="#000" stroke-width="1.4"/>
<line x1="51.5" y1="380.3" x2="413.5" y2="380.3" stroke="#000" stroke-width="1.4"/>
<text x="141.10" y="16.30" font-size="13" text-anchor="start" fill="#000" textLength="27.0" lengthAdjust="spacing" >PAH</text>
<text x="175.20" y="16.30" font-size="13" text-anchor="start" fill="#000" textLength="40.2" lengthAdjust="spacing" >model</text>
<text x="225.75" y="16.60" font-size="15.5" text-anchor="middle" fill="#000" >(</text>
<text x="247.40" y="16.30" font-size="13" text-anchor="middle" fill="#000" >=</text>
<text x="256.55" y="16.30" font-size="13" text-anchor="middle" fill="#000" >1</text>
<text x="263.15" y="16.30" font-size="13" text-anchor="middle" fill="#000" >;</text>
<text x="272.60" y="16.30" font-size="13" text-anchor="start" fill="#000" textLength="45.0" lengthAdjust="spacing" >scaled</text>
<text x="320.55" y="16.60" font-size="15.5" text-anchor="middle" fill="#000" >)</text>
<text x="235.90" y="16.30" font-size="14.5" text-anchor="middle" fill="#000" font-style="italic" font-family="'Liberation Serif',serif" stroke="#000" stroke-width="0.25">U</text>
<text x="48.30" y="92.20" font-size="11.2" text-anchor="end" fill="#000" textLength="19.5" lengthAdjust="spacing" >100</text>
<text x="48.30" y="200.70" font-size="11.2" text-anchor="end" fill="#000" textLength="12.5" lengthAdjust="spacing" >10</text>
<text x="47.30" y="309.30" font-size="11.2" text-anchor="end" fill="#000" >1</text>
<text x="64.30" y="396.80" font-size="11" text-anchor="middle" fill="#000" >3</text>
<text x="155.86" y="396.80" font-size="11" text-anchor="middle" fill="#000" >5</text>
<text x="216.16" y="396.80" font-size="11" text-anchor="middle" fill="#000" >7</text>
<text x="280.69" y="396.80" font-size="11" text-anchor="middle" fill="#000" textLength="13.0" lengthAdjust="spacing" >10</text>
<text x="404.93" y="396.80" font-size="11" text-anchor="middle" fill="#000" textLength="13.0" lengthAdjust="spacing" >20</text>
<text x="176.20" y="410.80" font-size="11.3" text-anchor="start" fill="#000" textLength="63.3" lengthAdjust="spacing" >Wavelength,</text>
<text x="249.90" y="410.80" font-size="12.2" text-anchor="middle" fill="#000" >λ</text>
<text x="259.60" y="411.60" font-size="13.4" text-anchor="start" fill="#000" >[</text>
<text x="263.40" y="410.80" font-size="11.3" text-anchor="start" fill="#000" letter-spacing="0.5"><tspan font-style="italic">μ</tspan>m</text>
<text x="283.20" y="411.60" font-size="13.4" text-anchor="start" fill="#000" >]</text>
<g transform="translate(18.5,0) rotate(-90)">
<text x="-250.30" y="-1.10" font-size="11.3" text-anchor="start" fill="#000" textLength="25.6" lengthAdjust="spacing" >Flux,</text>
<text x="-219.60" y="-0.30" font-size="12.2" text-anchor="start" fill="#000" font-style="italic" font-family="'Liberation Serif',serif" stroke="#000" stroke-width="0.12">F</text>
<text x="-211.60" y="2.00" font-size="8.6" text-anchor="start" fill="#000" font-style="italic" font-family="'Liberation Serif',serif">ν</text>
<text x="-200.60" y="-1.00" font-size="13.4" text-anchor="start" fill="#000" >[</text>
<g transform="translate(-195.2,0) scale(0.84,1)">
<text x="0.00" y="0.00" font-size="11.4" text-anchor="start" fill="#000" letter-spacing="0.4">MJy</text>
</g>
<g transform="translate(-176.6,1.6) skewX(-27)">
<text x="0.00" y="0.00" font-size="13.4" text-anchor="start" fill="#000" >/</text>
</g>
<text x="-168.00" y="0.00" font-size="11.4" text-anchor="start" fill="#000" textLength="9.2" lengthAdjust="spacing" >sr</text>
<text x="-157.90" y="-1.00" font-size="13.4" text-anchor="start" fill="#000" >]</text>
</g>
<g transform="translate(81.20,44.70) scale(1,1.13)">
<text x="0.00" y="0.00" font-size="7.9" text-anchor="middle" fill="#555" textLength="17.1" lengthAdjust="spacing" >C–H</text>
</g>
<g transform="translate(81.20,52.10) scale(1,1.13)">
<text x="0.00" y="0.00" font-size="7.9" text-anchor="middle" fill="#555" textLength="26.3" lengthAdjust="spacing" >stretch</text>
</g>
<g transform="translate(81.20,59.60) scale(1,1.13)">
<text x="0.00" y="0.00" font-size="7.9" text-anchor="middle" fill="#555" textLength="26.3" lengthAdjust="spacing" >3.3 <tspan font-style="italic">μ</tspan>m</text>
</g>
<g transform="translate(213.10,32.00) scale(1,1.13)">
<text x="0.00" y="0.00" font-size="7.9" text-anchor="middle" fill="#555" textLength="16.6" lengthAdjust="spacing" >C–C</text>
</g>
<g transform="translate(213.10,39.50) scale(1,1.13)">
<text x="0.00" y="0.00" font-size="7.9" text-anchor="middle" fill="#555" textLength="26.5" lengthAdjust="spacing" >stretch</text>
</g>
<g transform="translate(213.10,46.90) scale(1,1.13)">
<text x="0.00" y="0.00" font-size="7.9" text-anchor="middle" fill="#555" textLength="43.6" lengthAdjust="spacing" >6.2, 7.6 <tspan font-style="italic">μ</tspan>m</text>
</g>
<g transform="translate(234.60,68.70) scale(1,1.13)">
<text x="0.00" y="0.00" font-size="7.9" text-anchor="start" fill="#555" textLength="16.9" lengthAdjust="spacing" >C–H</text>
</g>
<g transform="translate(234.60,76.10) scale(1,1.13)">
<text x="0.00" y="0.00" font-size="7.9" text-anchor="start" fill="#555" textLength="32.8" lengthAdjust="spacing" >in–plane</text>
</g>
<g transform="translate(234.60,83.30) scale(1,1.13)">
<text x="0.00" y="0.00" font-size="7.9" text-anchor="start" fill="#555" textLength="28.9" lengthAdjust="spacing" >bending</text>
</g>
<g transform="translate(234.60,90.50) scale(1,1.13)">
<text x="0.00" y="0.00" font-size="7.9" text-anchor="start" fill="#555" textLength="43.0" lengthAdjust="spacing" >7.8, 8.6 <tspan font-style="italic">μ</tspan>m</text>
</g>
<g transform="translate(312.40,31.80) scale(1,1.13)">
<text x="0.00" y="0.00" font-size="7.9" text-anchor="middle" fill="#555" textLength="16.7" lengthAdjust="spacing" >C–H</text>
</g>
<g transform="translate(312.40,39.30) scale(1,1.13)">
<text x="0.00" y="0.00" font-size="7.9" text-anchor="middle" fill="#555" textLength="53.1" lengthAdjust="spacing" >out–of–plane</text>
</g>
<g transform="translate(312.40,46.80) scale(1,1.13)">
<text x="0.00" y="0.00" font-size="7.9" text-anchor="middle" fill="#555" textLength="28.9" lengthAdjust="spacing" >bending</text>
</g>
<g transform="translate(312.40,54.30) scale(1,1.13)">
<text x="0.00" y="0.00" font-size="7.9" text-anchor="middle" fill="#555" textLength="52.3" lengthAdjust="spacing" >11.3, 12.7 <tspan font-style="italic">μ</tspan>m</text>
</g>
<g transform="translate(374.90,68.80) scale(1,1.13)">
<text x="0.00" y="0.00" font-size="7.9" text-anchor="middle" fill="#555" textLength="27.8" lengthAdjust="spacing" >C–C–C</text>
</g>
<g transform="translate(374.90,76.20) scale(1,1.13)">
<text x="0.00" y="0.00" font-size="7.9" text-anchor="middle" fill="#555" textLength="29.3" lengthAdjust="spacing" >bending</text>
</g>
<g transform="translate(374.90,83.70) scale(1,1.13)">
<text x="0.00" y="0.00" font-size="7.9" text-anchor="middle" fill="#555" textLength="23.5" lengthAdjust="spacing" >17 <tspan font-style="italic">μ</tspan>m</text>
</g>
<text transform="translate(300.2,87.9) rotate(-90)" font-family="'Liberation Serif',serif" font-size="8.8" fill="#444" stroke="#444" stroke-width="0.3" textLength="17.2" lengthAdjust="spacing">Solo</text>
<text transform="translate(321.0,87.9) rotate(-90)" font-family="'Liberation Serif',serif" font-size="8.8" fill="#444" stroke="#444" stroke-width="0.3" textLength="17.2" lengthAdjust="spacing">Trio</text>
<g transform="translate(86.60,163.60) scale(1,1.02)">
<text x="0.00" y="0.00" font-size="7.3" text-anchor="start" fill="#ff0000" textLength="18.3" lengthAdjust="spacing" stroke="#ff0000" stroke-width="0.15">PAH<tspan font-size="5.2" dy="-2.7">0</tspan></text>
</g>
<g transform="translate(86.60,171.80) scale(1,1.08)">
<text x="0.00" y="0.00" font-size="8.2" text-anchor="start" fill="#ff0000" textLength="49.1" lengthAdjust="spacing" font-weight="bold">(<tspan font-style="italic">r</tspan><tspan dx="0.9">=</tspan>0.35 <tspan font-family="'Liberation Serif',serif" font-size="8.8">nm</tspan>)</text>
</g>
<g transform="translate(175.30,196.00) scale(1,1.02)">
<text x="0.00" y="0.00" font-size="7.3" text-anchor="end" fill="#b000bc" textLength="18.3" lengthAdjust="spacing" stroke="#b000bc" stroke-width="0.15">PAH<tspan font-size="5.2" dy="-2.7">+</tspan></text>
</g>
<g transform="translate(175.30,204.70) scale(1,1.08)">
<text x="0.00" y="0.00" font-size="8.2" text-anchor="end" fill="#b000bc" textLength="48.1" lengthAdjust="spacing" font-weight="bold">(<tspan font-style="italic">r</tspan><tspan dx="0.9">=</tspan>0.35 <tspan font-family="'Liberation Serif',serif" font-size="8.8">nm</tspan>)</text>
</g>
<g transform="translate(215.50,353.60) scale(1,1.02)">
<text x="0.00" y="0.00" font-size="7.3" text-anchor="end" fill="#1e9af0" textLength="18.3" lengthAdjust="spacing" stroke="#1e9af0" stroke-width="0.15">PAH<tspan font-size="5.2" dy="-2.7">+</tspan></text>
</g>
<g transform="translate(215.50,361.80) scale(1,1.08)">
<text x="0.00" y="0.00" font-size="8.2" text-anchor="end" fill="#1e9af0" textLength="36.1" lengthAdjust="spacing" font-weight="bold">(<tspan font-style="italic">r</tspan><tspan dx="0.9">=</tspan>5 <tspan font-family="'Liberation Serif',serif" font-size="8.8">nm</tspan>)</text>
</g>
<g transform="translate(408.30,176.70) scale(1,1.02)">
<text x="0.00" y="0.00" font-size="7.3" text-anchor="end" fill="#0000f6" textLength="17.7" lengthAdjust="spacing" stroke="#0000f6" stroke-width="0.15">PAH<tspan font-size="5.2" dy="-2.7">0</tspan></text>
</g>
<g transform="translate(408.30,184.60) scale(1,1.08)">
<text x="0.00" y="0.00" font-size="8.2" text-anchor="end" fill="#0000f6" textLength="35.8" lengthAdjust="spacing" font-weight="bold">(<tspan font-style="italic">r</tspan><tspan dx="0.9">=</tspan>5 <tspan font-family="'Liberation Serif',serif" font-size="8.8">nm</tspan>)</text>
</g>
</svg>
</body></html>
